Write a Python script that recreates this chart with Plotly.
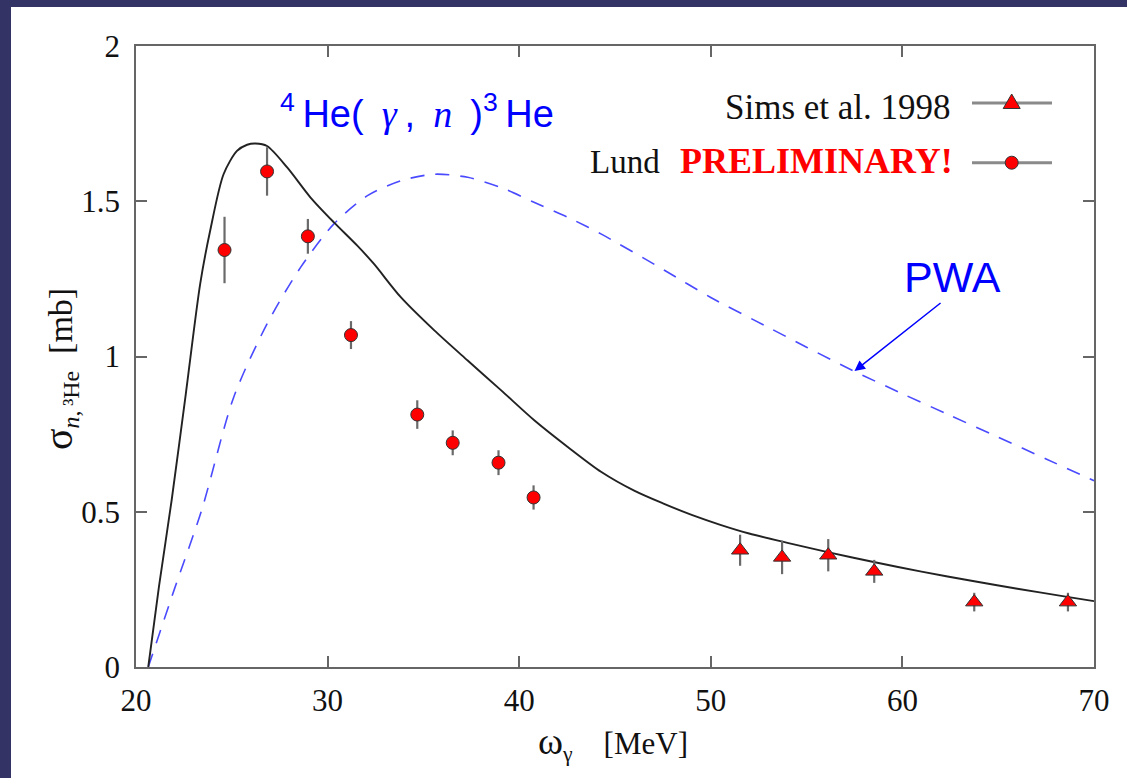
import plotly.graph_objects as go

# ---- data ----
lund_x = [24.62, 26.84, 28.97, 31.22, 34.68, 36.53, 38.92, 40.75]
lund_y = [1.343, 1.596, 1.387, 1.069, 0.813, 0.722, 0.658, 0.546]
lund_err = [0.107, 0.078, 0.056, 0.045, 0.046, 0.040, 0.040, 0.039]

sims_x = [51.53, 53.72, 56.13, 58.53, 63.75, 68.64]
sims_y = [0.376, 0.353, 0.360, 0.308, 0.209, 0.209]
sims_err = [0.050, 0.054, 0.052, 0.037, 0.030, 0.030]

theory_x = [20.64, 21.2, 21.86, 22.6, 23.35, 23.87, 24.57, 25.27, 25.8, 26.23, 26.84,
            27.89, 29.11, 30.33, 31.55, 32.42, 33.82, 35.57, 37.31, 39.06, 40.80,
            42.55, 44.29, 46.0, 47.5, 49.0, 50.5, 52.0, 54.0, 56.1, 58.5, 61.0,
            63.75, 66.0, 68.6, 70.0]
theory_y = [0.0, 0.26, 0.537, 0.88, 1.234, 1.405, 1.587, 1.662, 1.682, 1.686, 1.678,
            1.609, 1.512, 1.432, 1.357, 1.298, 1.191, 1.084, 0.987, 0.891, 0.794,
            0.708, 0.628, 0.568, 0.527, 0.490, 0.458, 0.430, 0.400, 0.370, 0.338,
            0.307, 0.276, 0.252, 0.226, 0.212]

pwa_x = [20.64, 22.0, 23.43, 25.1, 26.84, 28.59, 30.33, 32.08, 33.82, 35.57, 37.31,
         39.06, 40.8, 42.55, 44.29, 47.6, 50.0, 53.0, 55.0, 57.4, 60.0, 62.5, 65.0,
         67.5, 70.0]
pwa_y = [0.0, 0.25, 0.506, 0.869, 1.105, 1.287, 1.427, 1.518, 1.566, 1.587, 1.577,
         1.544, 1.496, 1.448, 1.394, 1.277, 1.19, 1.094, 1.03, 0.955, 0.88, 0.81, 0.74,
         0.67, 0.60]

x_ticks = [20, 30, 40, 50, 60, 70]
y_ticks = [0, 0.5, 1, 1.5, 2]
y_tick_labels = ["0", "0.5", "1", "1.5", "2"]

# ---- layout geometry (pixels) ----
W, H = 1127, 778
L, R, T, B = 136, 1094, 46, 667


def px(xp):
    return (xp - L) / (R - L)


def py(yp):
    return (B - yp) / (B - T)


SERIF = "Liberation Serif, Times New Roman, serif"
SANS = "Liberation Sans, Arial, sans-serif"
BLUE = "#0000ff"
AXC = "#666666"

fig = go.Figure()

fig.add_trace(go.Scatter(x=pwa_x, y=pwa_y, mode="lines",
                         line=dict(color="#4a4aff", width=1.6, dash="14px,11px",
                                   shape="spline", smoothing=0.8),
                         name="PWA", showlegend=False, hoverinfo="skip"))
fig.add_trace(go.Scatter(x=theory_x, y=theory_y, mode="lines",
                         line=dict(color="#222222", width=1.9, shape="spline", smoothing=0.8),
                         name="theory", showlegend=False))
fig.add_trace(go.Scatter(x=lund_x, y=lund_y, mode="markers",
                         error_y=dict(type="data", array=lund_err, color="#6a6a6a",
                                      thickness=2.2, width=0),
                         marker=dict(symbol="circle", size=13, color="#ff0000",
                                     line=dict(color="#333333", width=1)),
                         name="Lund PRELIMINARY!", showlegend=False))
fig.add_trace(go.Scatter(x=sims_x, y=sims_y, mode="markers",
                         error_y=dict(type="data", array=sims_err, color="#6a6a6a",
                                      thickness=2.2, width=0),
                         marker=dict(symbol="triangle-up", size=15, color="#ff0000",
                                     line=dict(color="#333333", width=1)),
                         name="Sims et al. 1998", showlegend=False))

axis_common = dict(showline=True, linecolor=AXC, linewidth=1.5, mirror="ticks",
                   ticks="inside", ticklen=11, tickwidth=1.5, tickcolor=AXC,
                   showgrid=False, zeroline=False,
                   tickfont=dict(family=SERIF, size=31, color="#111111"))

fig.update_xaxes(range=[20, 70], tickvals=x_ticks, ticklabelstandoff=5, **axis_common)
fig.update_yaxes(range=[0, 2], tickvals=y_ticks, ticktext=y_tick_labels,
                 ticklabelstandoff=8, **axis_common)

shapes = [
    # dark frame strips (left and top)
    dict(type="rect", xref="paper", yref="paper", x0=px(0), x1=px(11), y0=py(W), y1=py(0),
         fillcolor="#333366", line=dict(width=0), layer="above"),
    dict(type="rect", xref="paper", yref="paper", x0=px(0), x1=px(W + 5), y0=py(7), y1=py(0),
         fillcolor="#333366", line=dict(width=0), layer="above"),
    # legend samples
    dict(type="line", xref="paper", yref="paper", x0=px(972), x1=px(1052), y0=py(103), y1=py(103),
         line=dict(color="#8a8a8a", width=3)),
    dict(type="path", xref="paper", yref="paper",
         path=f"M {px(1003.2)} {py(108.5)} L {px(1020.2)} {py(108.5)} L {px(1011.7)} {py(94)} Z",
         fillcolor="#ff0000", line=dict(color="#333333", width=1)),
    dict(type="line", xref="paper", yref="paper", x0=px(972), x1=px(1052), y0=py(162.7), y1=py(162.7),
         line=dict(color="#8a8a8a", width=3)),
    dict(type="circle", xref="paper", yref="paper", x0=px(1005.2), x1=px(1018.2),
         y0=py(169.2), y1=py(156.2),
         fillcolor="#ff0000", line=dict(color="#333333", width=1)),
]

SERIF_SPAN = "<span style=\"font-family:'Liberation Serif',serif\"><i>{}</i></span>"

annotations = [
    dict(text="<sup>4</sup>\u2009He(\u00a0\u2009" + SERIF_SPAN.format("γ") + "\u2009,\u00a0\u2009"
              + SERIF_SPAN.format("n") + "\u00a0\u2009)<sup>3</sup>\u2009He",
         x=34.67, y=1.79, xref="x", yref="y", showarrow=False,
         font=dict(family=SANS, size=38, color=BLUE), xanchor="center", yanchor="middle"),
    dict(text="PWA", x=62.59, y=1.256, xref="x", yref="y", showarrow=False,
         font=dict(family=SANS, size=43, color=BLUE), xanchor="center", yanchor="middle"),
    dict(text="", x=57.5, y=0.953, ax=62.07, ay=1.176, xref="x", yref="y",
         axref="x", ayref="y", showarrow=True, arrowhead=2, arrowsize=1.4,
         arrowwidth=1.5, arrowcolor=BLUE),
    dict(text="Sims et al. 1998", x=px(953), y=py(107), xref="paper", yref="paper",
         showarrow=False, xanchor="right", yanchor="middle",
         font=dict(family=SERIF, size=35, color="#111111")),
    dict(text="Lund", x=px(662), y=py(162), xref="paper", yref="paper",
         showarrow=False, xanchor="right", yanchor="middle",
         font=dict(family=SERIF, size=33, color="#111111")),
    dict(text="<b>PRELIMINARY!</b>", x=px(955), y=py(161), xref="paper", yref="paper",
         showarrow=False, xanchor="right", yanchor="middle",
         font=dict(family=SERIF, size=36, color="#ff0000")),
    dict(text="<span style=\"font-size:38px\">ω</span><sub>γ</sub> \u2002 [MeV]",
         x=px(613), y=py(743), xref="paper", yref="paper",
         showarrow=False, xanchor="center", yanchor="middle",
         font=dict(family=SERIF, size=31, color="#111111")),
    dict(text="<span style=\"font-size:40px\">σ</span><sub><i>n</i>,\u2009³He</sub>  [mb]",
         x=px(60), y=py(369), xref="paper", yref="paper",
         showarrow=False, xanchor="center", yanchor="middle", textangle=-90,
         font=dict(family=SERIF, size=34, color="#111111")),
]

fig.update_layout(width=W, height=H,
                  margin=dict(l=L, r=W - R, t=T, b=H - B, pad=0),
                  paper_bgcolor="white", plot_bgcolor="white",
                  shapes=shapes, annotations=annotations, showlegend=False)

fig.write_html("out.html", config={"displayModeBar": False},
               post_script="document.body.style.margin='0';document.body.style.padding='0';"
                           "document.body.style.overflow='hidden';")
